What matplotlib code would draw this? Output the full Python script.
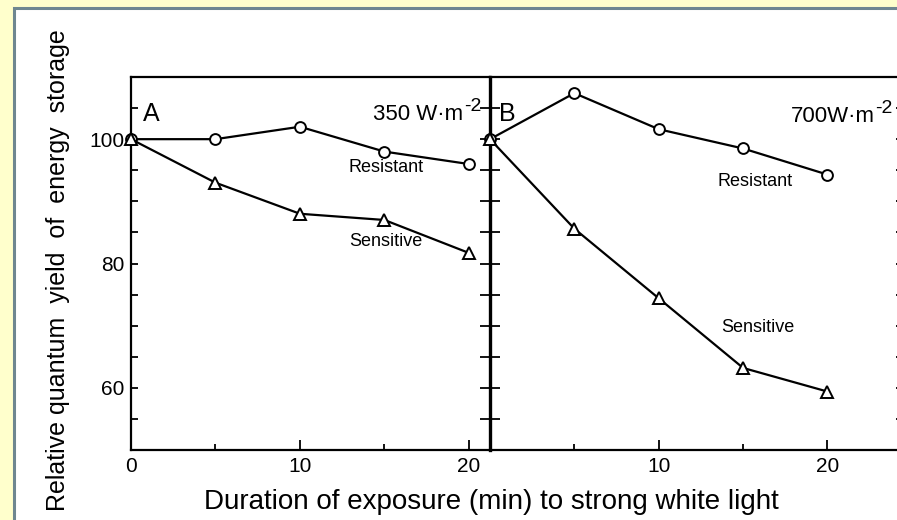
import matplotlib.pyplot as plt
from matplotlib.patches import Rectangle
from matplotlib.ticker import MultipleLocator, FixedLocator

plt.rcParams["font.family"] = ["Liberation Sans", "DejaVu Sans"]

# Exposure time (min) and relative quantum yield (%) for both light intensities
minutes = [0, 5, 10, 15, 20]
resistant_350 = [100, 100, 102, 98, 96]
sensitive_350 = [100, 93, 88, 87, 81.7]
resistant_700 = [100, 107.4, 101.6, 98.5, 94.3]
sensitive_700 = [100, 85.6, 74.4, 63.2, 59.4]

panel_letters = ["A", "B"]
intensity_labels = ["350 W·m", "700W·m"]
unit_power = "-2"

W, H = 897, 520
fig = plt.figure(figsize=(W / 100, H / 100), dpi=100)
fig.patch.set_facecolor("#ffffcc")

# white page with a slate frame
page = Rectangle((14 / W, -0.1), 1.2, 1 - 8 / H + 0.1, transform=fig.transFigure,
                 facecolor="white", edgecolor="#6f8790", linewidth=2.2, zorder=0)
fig.add_artist(page)

bottom = 1 - 450 / H
height = (450 - 77) / H
ax_a = fig.add_axes([131 / W, bottom, (490 - 131) / W, height])
ax_b = fig.add_axes([490 / W, bottom, (899 - 490) / W, height])

line_kw = dict(color="black", linewidth=1.6, markeredgewidth=1.4,
               markerfacecolor="white", clip_on=False, zorder=5)

for ax, res, sen in [(ax_a, resistant_350, sensitive_350),
                     (ax_b, resistant_700, sensitive_700)]:
    ax.set_facecolor("none")
    ax.plot(minutes, res, marker="o", markersize=7.8, **line_kw)
    ax.plot(minutes, sen, marker="^", markersize=8, **line_kw)
    ax.set_ylim(50, 110)
    for side in ["top", "bottom", "left", "right"]:
        ax.spines[side].set_linewidth(1.6)
    ax.xaxis.set_minor_locator(FixedLocator([5, 15]))
    ax.tick_params(axis="x", which="major", direction="in", length=7, width=1.3,
                   labelsize=15, pad=5, top=False)
    ax.tick_params(axis="x", which="minor", direction="in", length=4, width=1.3, top=False)

ax_a.set_xlim(0, 21.25)
ax_b.set_xlim(0, 24.24)

ax_a.set_xticks([0, 10, 20])
ax_b.set_xticks([10, 20])

# panel A: labelled y axis with inward ticks every 5 units
ax_a.spines["right"].set_visible(False)
ax_a.yaxis.set_major_locator(FixedLocator([60, 80, 100]))
ax_a.yaxis.set_minor_locator(FixedLocator([55, 65, 70, 75, 85, 90, 95, 105]))
ax_a.tick_params(axis="y", which="both", direction="in", length=5, width=1.3,
                 labelsize=15, pad=5, right=False)

# panel B: shared divider with crossing ticks, right axis inward ticks
ax_b.spines["left"].set_linewidth(2.4)
ax_b.yaxis.set_major_locator(MultipleLocator(5))
ax_b.tick_params(axis="y", which="major", direction="inout", length=14, width=1.3,
                 labelleft=False, right=True)
for t in ax_b.yaxis.get_major_ticks():
    t.tick2line.set_markersize(5)


def intensity(ax, x, y, label):
    """Right-aligned intensity label with a raised exponent after it."""
    t = ax.text(x, y, label, transform=ax.transAxes, fontsize=16,
                ha="right", va="center")
    ax.annotate(unit_power, xy=(1.01, 0.45), xycoords=t, fontsize=14,
                ha="left", va="bottom")


# panel letters and light intensity
ax_a.text(0.033, 0.9, panel_letters[0], transform=ax_a.transAxes, fontsize=18,
          ha="left", va="center")
intensity(ax_a, 0.925, 0.9, intensity_labels[0])
ax_b.text(0.022, 0.9, panel_letters[1], transform=ax_b.transAxes, fontsize=18,
          ha="left", va="center")
intensity(ax_b, 0.94, 0.895, intensity_labels[1])

# series labels
ax_a.text(12.9, 95.4, "Resistant", fontsize=13, ha="left", va="center")
ax_a.text(12.9, 83.6, "Sensitive", fontsize=13, ha="left", va="center")
ax_b.text(13.5, 93.2, "Resistant", fontsize=13, ha="left", va="center")
ax_b.text(13.7, 69.7, "Sensitive", fontsize=13, ha="left", va="center")

fig.text(58 / W, 1 - 270 / H, "Relative quantum  yield  of  energy  storage",
         rotation=90, fontsize=18, ha="center", va="center")
fig.text(491 / W, 1 - 502 / H, "Duration of exposure (min) to strong white light",
         fontsize=20, ha="center", va="center")

fig.savefig("out.png", dpi=100, facecolor=fig.get_facecolor())
